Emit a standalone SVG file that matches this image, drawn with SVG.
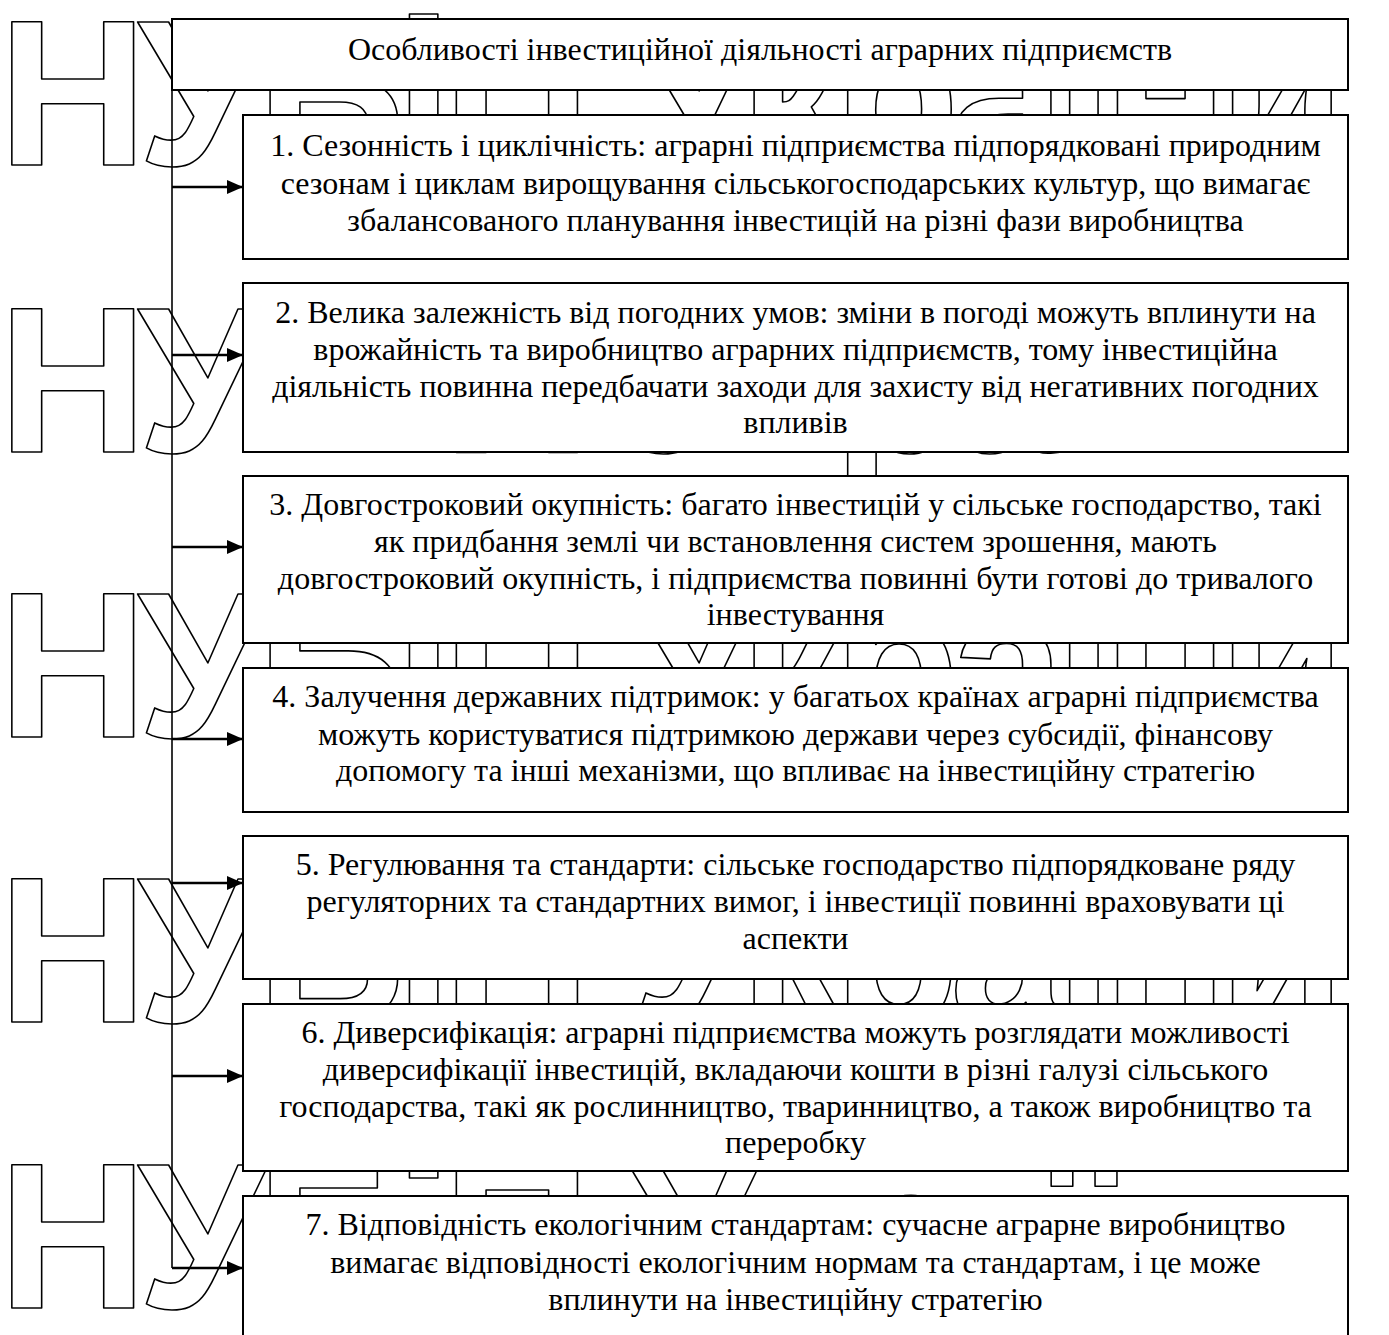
<svg xmlns="http://www.w3.org/2000/svg" width="1389" height="1335" viewBox="0 0 1389 1335">
<style>
.wm { font-family: "Liberation Sans", Arial, sans-serif; font-weight: bold; font-size: 207px; letter-spacing: -10px; fill: #ffffff; stroke: #000000; stroke-width: 1.6; stroke-linejoin: round; }
.box { fill: #ffffff; stroke: #000000; stroke-width: 2; }
.t { font-family: "Liberation Serif", "Times New Roman", serif; font-size: 32px; fill: #000000; text-anchor: middle; }
.vline { stroke: #000000; stroke-width: 1.6; fill: none; }
.arrow { stroke: #000000; stroke-width: 2.6; fill: none; marker-end: url(#ah); }
</style>
<defs>
<marker id="ah" markerUnits="userSpaceOnUse" markerWidth="16" markerHeight="14" refX="16" refY="7" orient="auto">
<path d="M0,0 L16,7 L0,14 Z" fill="#000000"/>
</marker>
</defs>
<rect x="0" y="0" width="1389" height="1335" fill="#ffffff"/>
<g id="watermark">
<text class="wm" x="-2" y="165">НУБіП України</text>
<text class="wm" x="-2" y="452">НУБіП України</text>
<text class="wm" x="-2" y="737">НУБіП України</text>
<text class="wm" x="-2" y="1022">НУБіП України</text>
<text class="wm" x="-2" y="1308">НУБіП України</text>
</g>
<g id="connectors">
<line class="vline" x1="172" y1="19" x2="172" y2="1268"/>
<line class="arrow" x1="172" y1="187" x2="243" y2="187"/>
<line class="arrow" x1="172" y1="355" x2="243" y2="355"/>
<line class="arrow" x1="172" y1="547" x2="243" y2="547"/>
<line class="arrow" x1="172" y1="739" x2="243" y2="739"/>
<line class="arrow" x1="172" y1="883" x2="243" y2="883"/>
<line class="arrow" x1="172" y1="1076" x2="243" y2="1076"/>
<line class="arrow" x1="172" y1="1268" x2="243" y2="1268"/>
</g>
<g id="header">
<rect class="box" x="172" y="19" width="1176" height="71"/>
<text class="t" x="760" y="60">Особливості інвестиційної діяльності аграрних підприємств</text>
</g>
<g id="node1">
<rect class="box" x="243" y="115" width="1105" height="144"/>
<text class="t" x="795.5" y="156">1. Сезонність і циклічність: аграрні підприємства підпорядковані природним</text>
<text class="t" x="795.5" y="194">сезонам і циклам вирощування сільськогосподарських культур, що вимагає</text>
<text class="t" x="795.5" y="231">збалансованого планування інвестицій на різні фази виробництва</text>
</g>
<g id="node2">
<rect class="box" x="243" y="283" width="1105" height="169"/>
<text class="t" x="795.5" y="323">2. Велика залежність від погодних умов: зміни в погоді можуть вплинути на</text>
<text class="t" x="795.5" y="360">врожайність та виробництво аграрних підприємств, тому інвестиційна</text>
<text class="t" x="795.5" y="397">діяльність повинна передбачати заходи для захисту від негативних погодних</text>
<text class="t" x="795.5" y="433">впливів</text>
</g>
<g id="node3">
<rect class="box" x="243" y="476" width="1105" height="167"/>
<text class="t" x="795.5" y="515">3. Довгостроковий окупність: багато інвестицій у сільське господарство, такі</text>
<text class="t" x="795.5" y="552">як придбання землі чи встановлення систем зрошення, мають</text>
<text class="t" x="795.5" y="589">довгостроковий окупність, і підприємства повинні бути готові до тривалого</text>
<text class="t" x="795.5" y="625">інвестування</text>
</g>
<g id="node4">
<rect class="box" x="243" y="668" width="1105" height="144"/>
<text class="t" x="795.5" y="707">4. Залучення державних підтримок: у багатьох країнах аграрні підприємства</text>
<text class="t" x="795.5" y="745">можуть користуватися підтримкою держави через субсидії, фінансову</text>
<text class="t" x="795.5" y="781">допомогу та інші механізми, що впливає на інвестиційну стратегію</text>
</g>
<g id="node5">
<rect class="box" x="243" y="836" width="1105" height="143"/>
<text class="t" x="795.5" y="875">5. Регулювання та стандарти: сільське господарство підпорядковане ряду</text>
<text class="t" x="795.5" y="912">регуляторних та стандартних вимог, і інвестиції повинні враховувати ці</text>
<text class="t" x="795.5" y="949">аспекти</text>
</g>
<g id="node6">
<rect class="box" x="243" y="1004" width="1105" height="167"/>
<text class="t" x="795.5" y="1043">6. Диверсифікація: аграрні підприємства можуть розглядати можливості</text>
<text class="t" x="795.5" y="1080">диверсифікації інвестицій, вкладаючи кошти в різні галузі сільського</text>
<text class="t" x="795.5" y="1117">господарства, такі як рослинництво, тваринництво, а також виробництво та</text>
<text class="t" x="795.5" y="1153">переробку</text>
</g>
<g id="node7">
<rect class="box" x="243" y="1196" width="1105" height="150"/>
<text class="t" x="795.5" y="1235">7. Відповідність екологічним стандартам: сучасне аграрне виробництво</text>
<text class="t" x="795.5" y="1273">вимагає відповідності екологічним нормам та стандартам, і це може</text>
<text class="t" x="795.5" y="1310">вплинути на інвестиційну стратегію</text>
</g>
</svg>
